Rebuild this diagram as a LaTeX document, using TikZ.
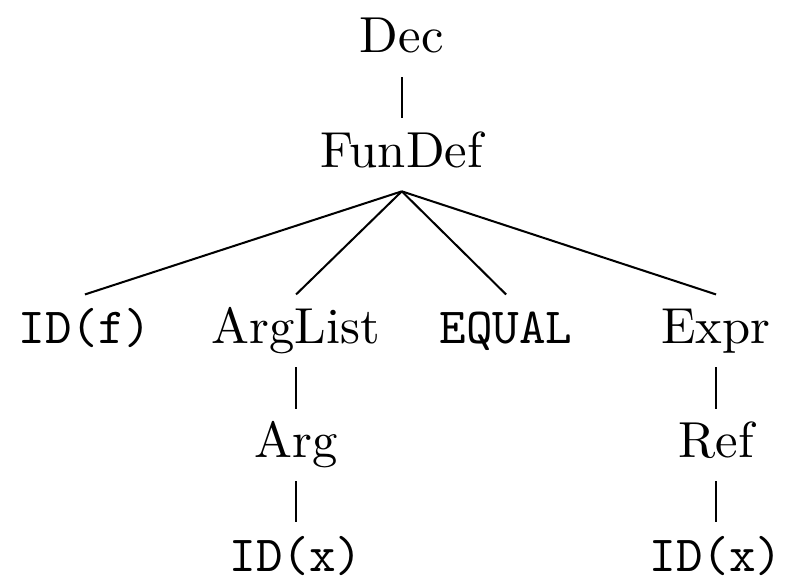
\documentclass[tikz,border=0pt]{standalone}
\begin{document}
\begin{tikzpicture}[lbl/.style={anchor=base,inner sep=1pt,text height=8.4pt,text depth=3.6pt}]
\useasboundingbox (0,0) rectangle (5.458,4.021);
\node[lbl] (dec) at (2.79,3.653) {Dec};
\node[lbl] (fundef) at (2.79,2.861) {FunDef};
\node[lbl] (idf) at (0.59,1.639) {\texttt{ID(f)}};
\node[lbl] (arglist) at (2.056,1.639) {ArgList};
\node[lbl] (equal) at (3.514,1.639) {\texttt{EQUAL}};
\node[lbl] (expr) at (4.972,1.639) {Expr};
\node[lbl] (arg) at (2.056,0.847) {Arg};
\node[lbl] (ref) at (4.972,0.847) {Ref};
\node[lbl] (idx1) at (2.056,0.056) {\texttt{ID(x)}};
\node[lbl] (idx2) at (4.972,0.056) {\texttt{ID(x)}};
\draw (dec.south) -- (fundef.north);
\draw (fundef.south) -- (idf.north);
\draw (fundef.south) -- (arglist.north);
\draw (fundef.south) -- (equal.north);
\draw (fundef.south) -- (expr.north);
\draw (arglist.south) -- (arg.north);
\draw (arg.south) -- (idx1.north);
\draw (expr.south) -- (ref.north);
\draw (ref.south) -- (idx2.north);
\end{tikzpicture}
\end{document}
